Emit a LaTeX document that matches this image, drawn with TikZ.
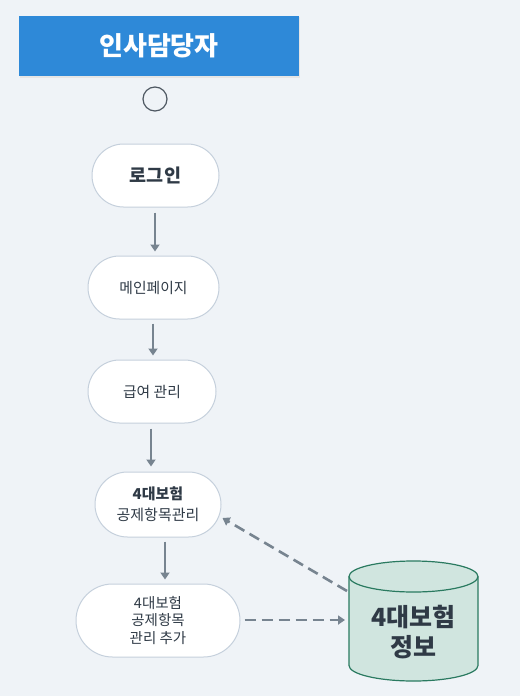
\documentclass[tikz,border=0pt]{standalone}
\usepackage{fontspec}
\setmainfont{Noto Sans CJK KR}
\usetikzlibrary{shapes.misc,arrows.meta}
\definecolor{bg}{HTML}{EFF3F7}
\definecolor{titleblue}{HTML}{2E89D8}
\definecolor{nodeborder}{HTML}{C5D0DC}
\definecolor{txt}{HTML}{2F3A46}
\definecolor{arrowgray}{HTML}{778490}
\definecolor{dbfill}{HTML}{D0E5DF}
\definecolor{dbline}{HTML}{2A7A60}
\tikzset{
  stadium/.style={rounded rectangle, draw=nodeborder, line width=1pt, fill=white, text=txt, minimum height=63pt, align=center, inner sep=0pt},
  flow/.style={draw=arrowgray, line width=2.6pt, -{Triangle[length=7pt,width=9pt]}},
  dflow/.style={draw=arrowgray, line width=2.6pt, dash pattern=on 11pt off 6pt, -{Triangle[length=7pt,width=9pt]}},
  dbrim/.style={x radius=64.5pt, y radius=15.5pt},
}
\begin{document}
\begin{tikzpicture}[x=1pt,y=-1pt]
\path[fill=bg] (0,0) rectangle (520,696);
\useasboundingbox (0,0) rectangle (520,696);
% title
\fill[black!10] (19.5,17) rectangle (300,77.5);
\node[fill=titleblue, minimum width=280pt, minimum height=60pt, inner sep=0pt, text=white, font=\fontsize{26}{30}\selectfont\bfseries] (title) at (159,46) {인사담당자};
% start
\node[circle, draw=txt!85, line width=1.2pt, minimum size=24pt, inner sep=0pt] (start) at (155,99) {};
% nodes
\node[stadium, minimum width=127pt, font=\fontsize{18.5}{22}\selectfont\bfseries] (login) at (155.5,175.5) {로그인};
\node[stadium, minimum width=131pt, font=\fontsize{14.8}{18}\selectfont] (main) at (153.5,287.5) {메인페이지};
\node[stadium, minimum width=128pt, font=\fontsize{14.8}{18}\selectfont] (pay) at (152,391.5) {급여 관리};
\node[stadium, minimum width=126pt, minimum height=65pt, font=\fontsize{15}{21}\selectfont] (ins) at (158,504.5) {\textbf{4대보험}\\공제항목관리};
\node[stadium, minimum width=164pt, minimum height=73pt, font=\fontsize{14.5}{17.5}\selectfont] (add) at (158,620.5) {4대보험\\공제항목\\관리 추가};
% database cylinder
\filldraw[draw=dbline, fill=dbfill, line width=1.2pt]
  (349,576.5) -- (349,665.5) arc[start angle=180, end angle=360, dbrim]
  -- (478,576.5) arc[start angle=0, end angle=180, dbrim] -- cycle;
\draw[dbline, line width=1.2pt] (349,576.5) arc[start angle=180, end angle=360, dbrim];
\node[text=txt, align=center, inner sep=0pt, font=\fontsize{25}{30}\selectfont\bfseries] (db) at (413.5,632) {4대보험\\정보};
% connectors
\draw[flow] ([xshift=-0.5pt,yshift=-5pt]login.south) -- ([xshift=1.5pt,yshift=4pt]main.north);
\draw[flow] ([xshift=-0.5pt,yshift=-4pt]main.south) -- ([xshift=1pt,yshift=4pt]pay.north);
\draw[flow] ([xshift=-1pt,yshift=-5pt]pay.south) -- ([xshift=-7pt,yshift=5pt]ins.north);
\draw[flow] ([xshift=7pt,yshift=-4pt]ins.south) -- ([xshift=7pt,yshift=4pt]add.north);
\draw[dflow] ([xshift=4pt,yshift=0.5pt]add.east) -- ([xshift=-68.5pt,yshift=12pt]db.center);
\draw[dflow] ([xshift=-66.5pt,yshift=41pt]db.center) -- ([xshift=1pt,yshift=-13.5pt]ins.east);
\end{tikzpicture}
\end{document}
